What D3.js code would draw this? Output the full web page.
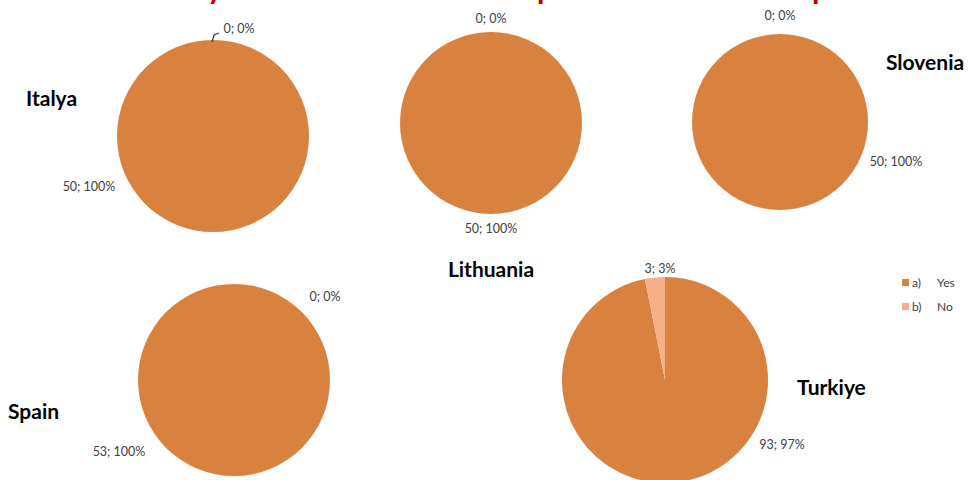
<!DOCTYPE html>
<html>
<head>
<meta charset="utf-8">
<title>Pie charts by country</title>
<script src="https://d3js.org/d3.v7.min.js"></script>
<style>
  body { margin: 0; background: #fff; }
  svg text { font-family: Lato, "Open Sans", sans-serif; }
</style>
</head>
<body>
<div id="chart"></div>
<script>
// data
var countries = ["Italya", "Lithuania", "Slovenia", "Spain", "Turkiye"];
var answers = ["a)  Yes", "b)  No"];
var yesCounts = [50, 50, 50, 53, 93];
var noCounts = [0, 0, 0, 0, 3];
var yesPct = ["100%", "100%", "100%", "100%", "97%"];
var noPct = ["0%", "0%", "0%", "0%", "3%"];

// layout of each pie (centre, radius, where the labels go)
var layout = [
  {cx: 213, cy: 136, r: 96, name: [26, 106], yesLab: [89, 191], noLab: [239, 33], leader: true},
  {cx: 491, cy: 123, r: 91, name: [491, 277], yesLab: [491, 233], noLab: [491, 23]},
  {cx: 780, cy: 122, r: 88, name: [886, 70], yesLab: [896, 166], noLab: [780, 20]},
  {cx: 234, cy: 380, r: 96, name: [8, 419], yesLab: [119, 456], noLab: [325, 301]},
  {cx: 665, cy: 380, r: 103, name: [797, 395], yesLab: [782, 449], noLab: [660, 273]}
];

var width = 972, height = 480;
var colors = ["#D9823F", "#F5B088"];

var svg = d3.select("#chart").append("svg")
  .attr("width", width).attr("height", height);

// clipped title (only the descenders show at the top edge)
svg.append("g").selectAll("text")
  .data([[207, "y"], [537, "p"], [812, "p"]])
  .enter().append("text")
    .attr("x", function(d) { return d[0]; })
    .attr("y", -1)
    .attr("fill", "#C00000")
    .style("font-size", "30px").style("font-weight", "bold")
    .text(function(d) { return d[1]; });

var pie = d3.pie().sort(null).value(function(d) { return d; });
var arc = d3.arc().innerRadius(0);

countries.forEach(function(c, i) {
  var L = layout[i];
  var g = svg.append("g").attr("transform", "translate(" + L.cx + "," + L.cy + ")");
  g.selectAll("path")
    .data(pie([yesCounts[i], noCounts[i]]))
    .enter().append("path")
      .attr("d", function(d) { return arc.outerRadius(L.r)(d); })
      .attr("fill", function(d, k) { return colors[k]; })
      .attr("stroke", "none");

  var nameAnchor = (c === "Lithuania") ? "middle" : "start";
  svg.append("text")
    .attr("x", L.name[0]).attr("y", L.name[1])
    .attr("text-anchor", nameAnchor)
    .style("font-size", "21px").style("font-weight", "bold")
    .attr("fill", "#000")
    .text(c);

  svg.append("text")
    .attr("x", L.yesLab[0]).attr("y", L.yesLab[1])
    .attr("text-anchor", "middle")
    .style("font-size", "12.5px").attr("fill", "#404040")
    .text(yesCounts[i] + "; " + yesPct[i]);

  svg.append("text")
    .attr("x", L.noLab[0]).attr("y", L.noLab[1])
    .attr("text-anchor", "middle")
    .style("font-size", "12.5px").attr("fill", "#404040")
    .text(noCounts[i] + "; " + noPct[i]);

  if (L.leader) {
    svg.append("path")
      .attr("d", "M" + (L.cx - 1) + "," + (L.cy - L.r + 2) + " L" + (L.cx + 1) + "," + (L.cy - L.r - 5) + " L" + (L.cx + 6) + "," + (L.cy - L.r - 7))
      .attr("fill", "none").attr("stroke", "#404040").attr("stroke-width", 1.2);
  }
});

// legend
var leg = svg.append("g").attr("transform", "translate(902,283)");
answers.forEach(function(a, k) {
  var parts = a.split(/\s+/);
  var row = leg.append("g").attr("transform", "translate(0," + (k * 24) + ")");
  row.append("rect").attr("x", 0).attr("y", -4).attr("width", 7).attr("height", 7)
    .attr("fill", colors[k]);
  row.append("text").attr("x", 10).attr("y", 4)
    .style("font-size", "12px").attr("fill", "#404040").text(parts[0]);
  row.append("text").attr("x", 35).attr("y", 4)
    .style("font-size", "12px").attr("fill", "#404040").text(parts[1]);
});
</script>
</body>
</html>
